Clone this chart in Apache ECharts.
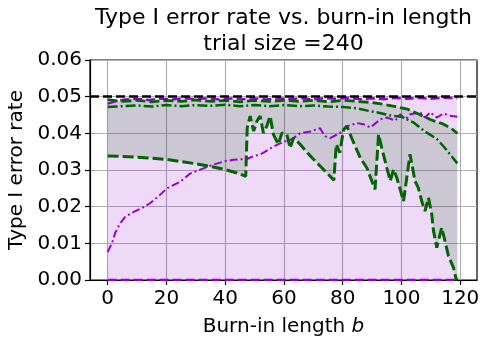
<!DOCTYPE html>
<html>
<head>
<meta charset="utf-8">
<script src="https://cdn.jsdelivr.net/npm/echarts@6/dist/echarts.min.js"></script>
<style>
  html, body { margin: 0; padding: 0; background: #fff; }
  #chart { width: 481px; height: 337px; }
</style>
</head>
<body>
<div id="chart"></div>
<script>
// tick labels
const xTicks = [0, 20, 40, 60, 80, 100, 120];
const yTicks = [0, 0.01, 0.02, 0.03, 0.04, 0.05, 0.06];
const nominalLevel = 0.05;

// purple: lower bound, estimate, upper bound
const purpleLower = [[0, 0], [119, 0]];
const purpleEst = [
  [0, 0.0076], [1.5, 0.0101], [2.6, 0.0129], [4.3, 0.0155], [6, 0.0172], [8.9, 0.0186],
  [11.7, 0.0196], [14.5, 0.021], [17.3, 0.0228], [20.2, 0.025], [24.7, 0.0268], [28, 0.029],
  [31.5, 0.0301], [36.1, 0.0315], [40, 0.0324], [42.9, 0.0328], [47.4, 0.033], [49.7, 0.0338],
  [51.9, 0.0342], [53.6, 0.035], [56.4, 0.0364], [59.9, 0.0377], [62.7, 0.0384], [65.5, 0.04],
  [69, 0.0405], [72.3, 0.0414], [74, 0.0392], [75.7, 0.0387], [79.1, 0.0401], [81.4, 0.0419],
  [84.8, 0.0428], [87, 0.0425], [89.4, 0.0416], [92.8, 0.0438], [95, 0.0443], [97.9, 0.0435],
  [99.6, 0.0452], [101.3, 0.0438], [103, 0.0452], [106.4, 0.0457], [108, 0.0443], [109.8, 0.0457],
  [112, 0.0443], [114.3, 0.0454], [117.1, 0.0447], [119, 0.0445]
];
const purpleUpper = [
  [0, 0.0481], [3, 0.0488], [6, 0.0492], [10, 0.0494], [14, 0.0491], [18, 0.0495], [22, 0.0492],
  [26, 0.0496], [30, 0.0493], [34, 0.0496], [38, 0.0492], [42, 0.0495], [46, 0.0493], [50, 0.0496],
  [54, 0.0492], [58, 0.0496], [62, 0.0493], [66, 0.0496], [70, 0.0493], [74, 0.0496], [78, 0.0494],
  [82, 0.0497], [86, 0.0493], [90, 0.0496], [94, 0.0493], [98, 0.0497], [102, 0.0494], [106, 0.0497],
  [110, 0.0494], [114, 0.0497], [119, 0.0496]
];

// green: lower bound, estimate, upper bound
const greenLower = [
  [0, 0.0338], [5, 0.0337], [10, 0.0335], [15, 0.0332], [20, 0.0329], [25, 0.0323], [30, 0.0317],
  [35, 0.031], [40, 0.0301], [44, 0.0292], [47, 0.0283], [47.5, 0.0415], [48.5, 0.0447], [49.7, 0.0406],
  [50.8, 0.0433], [51.9, 0.0447], [53, 0.0401], [54.2, 0.042], [55.3, 0.0447], [56.4, 0.0397],
  [58.1, 0.037], [59.3, 0.0401], [61, 0.0397], [62.1, 0.036], [63.3, 0.0388], [65.5, 0.037],
  [69, 0.0338], [72.3, 0.0311], [75.7, 0.0283], [77, 0.0272], [77.8, 0.037], [79, 0.0347],
  [80.3, 0.041], [81.4, 0.042], [83, 0.0388], [86, 0.0333], [88.2, 0.0306], [91, 0.0247],
  [92.2, 0.0397], [93.3, 0.036], [95, 0.0306], [96.2, 0.027], [97.3, 0.0302], [98.4, 0.0279],
  [100.7, 0.0215], [101.8, 0.0279], [102.9, 0.0343], [104.6, 0.027], [105.7, 0.0252], [106.9, 0.0215],
  [108, 0.0188], [109.2, 0.0224], [110.3, 0.0179], [110.9, 0.0134], [112, 0.0088], [113.7, 0.0143],
  [114.8, 0.0106], [116, 0.0065], [117.7, 0.0034], [118.5, 0.0005], [119, 0]
];
const greenEst = [
  [0, 0.0472], [5, 0.0474], [10, 0.0476], [15, 0.0473], [20, 0.0477], [25, 0.0474], [30, 0.0477],
  [35, 0.0475], [40, 0.0478], [45, 0.0474], [50, 0.0477], [55, 0.0474], [60, 0.0477], [65, 0.0474],
  [70, 0.0476], [75, 0.0473], [80, 0.0472], [85, 0.0468], [89, 0.0461], [93, 0.0455], [96, 0.0449],
  [100, 0.0445], [104, 0.043], [108, 0.0405], [112, 0.0385], [115, 0.0358], [119, 0.0318]
];
const greenUpper = [
  [0, 0.0492], [5, 0.0487], [10, 0.049], [15, 0.0486], [20, 0.049], [25, 0.0487], [30, 0.0491],
  [35, 0.0487], [40, 0.049], [45, 0.0486], [50, 0.049], [55, 0.0487], [60, 0.049], [65, 0.0487],
  [70, 0.049], [75, 0.0486], [80, 0.049], [85, 0.0487], [90, 0.0484], [94, 0.0479], [98, 0.0473],
  [102, 0.0466], [106, 0.0452], [110, 0.0437], [114, 0.0426], [117, 0.0413], [119, 0.04]
];

const PURPLE = '#9400d3';
const GREEN = '#006400';
const FONT = 'DejaVu Sans';

const chart = echarts.init(document.getElementById('chart'), null, { renderer: 'canvas' });

// 两条边界之间的填充
function band(upper, lower, fill) {
  return {
    type: 'custom',
    z: 1,
    silent: true,
    data: [[0, 0]],
    encode: { x: 0, y: 1 },
    renderItem: function (params, api) {
      const pts = upper.map(p => api.coord(p))
        .concat(lower.slice().reverse().map(p => api.coord(p)));
      return { type: 'polygon', shape: { points: pts }, style: { fill: fill } };
    }
  };
}

function line(data, color, width, dash, z) {
  return {
    type: 'line',
    data: data,
    showSymbol: false,
    symbol: 'none',
    z: z || 3,
    lineStyle: { color: color, width: width, type: dash },
    silent: true
  };
}

const option = {
  animation: false,
  title: {
    text: 'Type I error rate vs. burn-in length\ntrial size =240',
    left: 283.5,
    top: 5,
    padding: 0,
    textAlign: 'center',
    textStyle: { fontFamily: FONT, fontSize: 22, fontWeight: 'normal', color: '#000', lineHeight: 26 }
  },
  grid: {
    left: 90, right: 4, top: 60, bottom: 57,
    outerBoundsMode: 'none',
    show: true, borderColor: '#000', borderWidth: 1.2, backgroundColor: 'transparent'
  },
  xAxis: {
    type: 'value',
    min: -6,
    max: 125.7,
    name: 'Burn-in length {i|b}',
    nameLocation: 'middle',
    nameGap: 37,
    nameTextStyle: {
      fontFamily: FONT, fontSize: 20, color: '#000',
      rich: { i: { fontFamily: FONT, fontSize: 20, fontStyle: 'italic', color: '#000' } }
    },
    axisLine: { show: true, onZero: false, lineStyle: { color: '#000', width: 1.2 } },
    axisTick: { show: true, customValues: xTicks, length: 5, lineStyle: { color: '#000', width: 1.2 } },
    axisLabel: { customValues: xTicks, margin: 9, fontFamily: FONT, fontSize: 20, color: '#000' },
    splitLine: { show: true, lineStyle: { color: '#b0b0b0', width: 1.2 } }
  },
  yAxis: {
    type: 'value',
    min: 0,
    max: 0.06,
    interval: 0.01,
    name: 'Type I error rate',
    nameLocation: 'middle',
    nameGap: 61,
    nameTextStyle: { fontFamily: FONT, fontSize: 20, color: '#000' },
    axisLine: { show: true, onZero: false, lineStyle: { color: '#000', width: 1.2 } },
    axisTick: { show: true, length: 5, lineStyle: { color: '#000', width: 1.2 } },
    axisLabel: {
      margin: 8, fontFamily: FONT, fontSize: 20, color: '#000',
      formatter: v => v.toFixed(2)
    },
    splitLine: { show: true, lineStyle: { color: '#b0b0b0', width: 1.2 } }
  },
  series: [
    band(purpleUpper, purpleLower, 'rgba(148,0,211,0.15)'),
    band(greenUpper, greenLower, 'rgba(0,100,0,0.15)'),
    line(purpleLower, PURPLE, 2.5, [9, 4]),
    line(purpleUpper, PURPLE, 2.5, [9, 4]),
    line(purpleEst, PURPLE, 2, [8, 3, 2, 3]),
    line(greenUpper, GREEN, 2.8, [10, 4]),
    line(greenEst, GREEN, 2.5, [10, 3, 2, 3]),
    line(greenLower, GREEN, 3, [11, 4]),
    {
      type: 'line',
      data: [],
      z: 6,
      markLine: {
        silent: true,
        symbol: 'none',
        label: { show: false },
        lineStyle: { color: '#000', width: 2.5, type: [9, 4] },
        data: [{ yAxis: nominalLevel }]
      }
    }
  ]
};

chart.setOption(option);
</script>
</body>
</html>
